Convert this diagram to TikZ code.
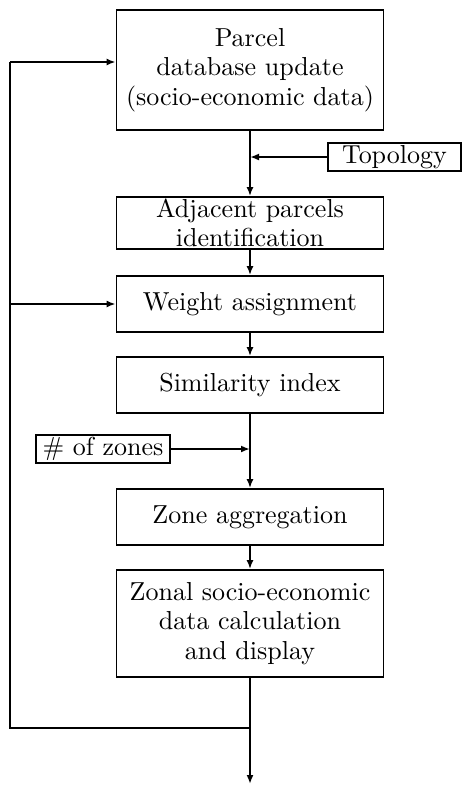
\documentclass[tikz,border=0pt]{standalone}
\usepackage{fontspec}
\setmainfont{lmroman10-regular.otf}
\usetikzlibrary{arrows.meta}
\begin{document}
\begin{tikzpicture}[x=1pt,y=-1pt,
  box/.style={draw,line width=1.8pt,align=center,inner sep=0pt,minimum width=267pt,font=\fontsize{26}{29.5}\selectfont},
  lbl/.style={draw,line width=1.5pt,align=center,inner sep=0pt,font=\fontsize{26}{29.5}\selectfont},
  conn/.style={line width=1.8pt},
  arr/.style={conn,-{Latex[length=9pt,width=7pt]}}]
\useasboundingbox (0,0) rectangle (462,785);
\node[box,minimum height=120pt] (b1) at (250,70) {Parcel\\database update\\(socio-economic data)};
\node[box,minimum height=52pt] (b2) at (250,223) {Adjacent parcels\\identification};
\node[box,minimum height=56pt] (b3) at (250,304) {Weight assignment};
\node[box,minimum height=56pt] (b4) at (250,385) {Similarity index};
\node[box,minimum height=56pt] (b5) at (250,517) {Zone aggregation};
\node[box,minimum height=107pt] (b6) at (250,623.5) {Zonal socio-economic\\data calculation\\and display};
\node[lbl,minimum width=133pt,minimum height=28pt] (topo) at (394.5,157) {Topology};
\node[lbl,minimum width=134pt,minimum height=28pt] (zones) at (103,449) {\# of zones};
\coordinate (t1) at (b1.south |- topo.west);
\coordinate (z1) at (b4.south |- zones.east);
\coordinate (j) at (b6.south |- 0,728);
\coordinate (e) at (b6.south |- 0,784);
\coordinate (l1) at (10,728);
\coordinate (l2) at (10,62);
\coordinate (l3) at (10,304);
\draw[arr] (b1.south) -- (b2.north);
\draw[arr] (topo.west) -- (t1);
\draw[arr] (b2.south) -- (b3.north);
\draw[arr] (b3.south) -- (b4.north);
\draw[arr] (b4.south) -- (b5.north);
\draw[arr] (zones.east) -- (z1);
\draw[arr] (b5.south) -- (b6.north);
\draw[arr] (b6.south) -- (e);
\draw[conn] (j) -- (l1) -- (l2);
\draw[arr] (l2) -- (l2 -| b1.west);
\draw[arr] (l3) -- (b3.west);
\end{tikzpicture}
\end{document}
